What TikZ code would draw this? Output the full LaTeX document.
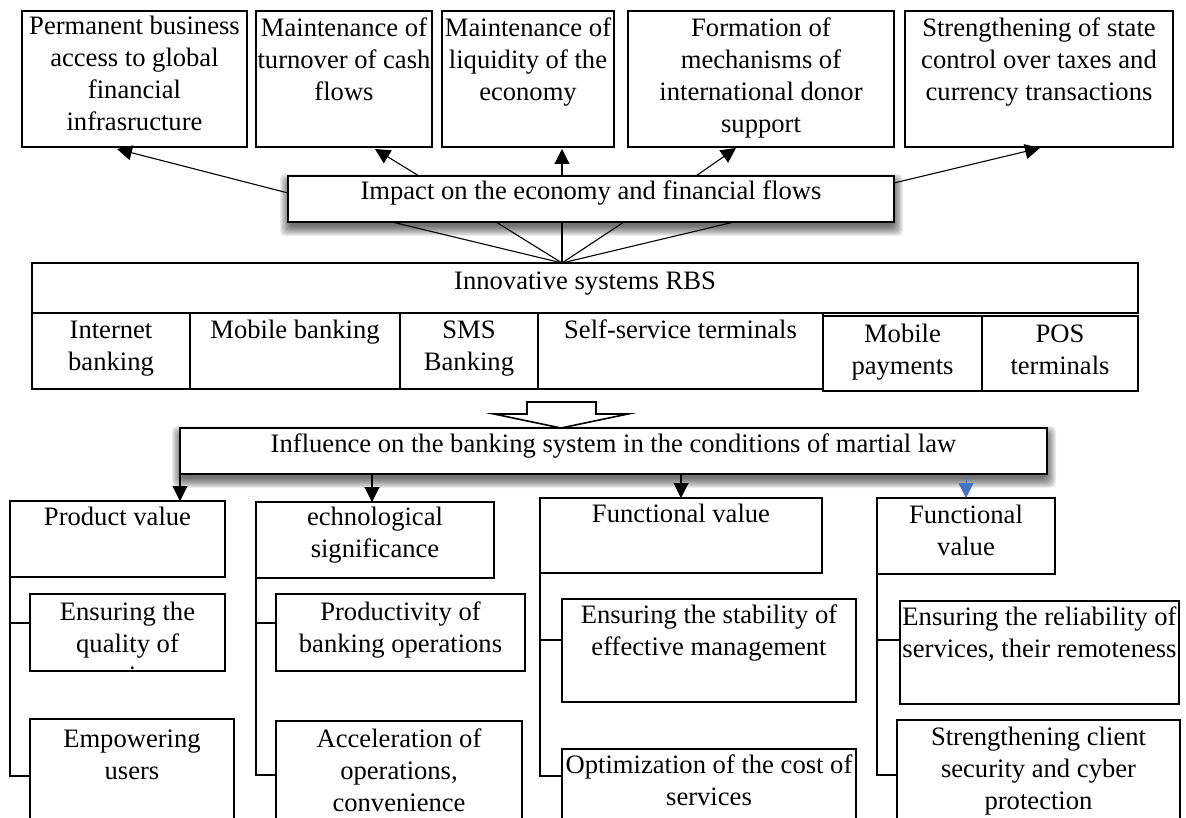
\documentclass[tikz,border=0pt]{standalone}
\usepackage{fontspec}
\setmainfont{Liberation Serif}
\usetikzlibrary{arrows.meta,fit,calc}
\definecolor{linkblue}{RGB}{68,114,196}
\newcommand\fs{\fontsize{26.6pt}{32pt}\selectfont}
\newcommand\hdstrut{\rule{0pt}{20pt}}
\tikzset{
  frame/.style={draw, line width=1.1pt, fill=white, inner sep=0pt, outer sep=0pt},
  lbl/.style={inner sep=0pt, outer sep=0pt, align=center, anchor=north, font=\fs},
  conn/.style={line width=1.1pt},
  arr/.style={conn, -{Triangle[length=15pt,width=15pt]}},
  bluearr/.style={line width=0.9pt, draw=linkblue, -{Triangle[length=15pt,width=15pt,fill=linkblue]}},
  blockarrow/.style={line width=1.6pt, fill=white, line join=miter},
}
% box from (x1,y1) to (x2,y2); text starts with its first baseline at y = #6
\newcommand\tbox[7]{%
  \node[frame, fit={(#2,#3) (#4,#5)}] (#1) {};
  \node[lbl] (#1-t) at ($(#1.north)+(0,#6-#3-20)$) {\hdstrut #7};}
% soft shadow under a box, offset downwards and blurred
\newcommand\softshadow[4]{%
  \foreach \k in {0,...,10}{%
    \fill[black, opacity=0.07, rounded corners=5pt]
      (#1+2-\k, #2+8-\k) rectangle (#3+\k-1, #4+\k+4);}}
\begin{document}
\begin{tikzpicture}[x=1pt,y=-1pt]
\useasboundingbox (0,0) rectangle (1186,818);
\clip (0,0) rectangle (1186,818);

% shadows of the two summary boxes
\softshadow{288}{176}{894}{222}
\softshadow{180}{428}{1047}{474}

% top row of effects
\tbox{b1}{22}{11}{247}{147}{35}{Permanent business\\access to global\\financial\\infrasructure}
\tbox{b2}{256}{11}{432}{147}{37}{Maintenance of\\turnover of cash\\flows}
\tbox{b3}{442}{11}{614}{147}{37}{Maintenance of\\liquidity of the\\economy}
\tbox{b4}{628}{11}{894}{147}{37}{Formation of\\mechanisms of\\international donor\\support}
\tbox{b5}{905}{11}{1173}{147}{37}{Strengthening of state\\control over taxes and\\currency transactions}

% impact box
\tbox{imp}{288}{176}{894}{222}{200}{Impact on the economy and financial flows}

% RBS table
\tbox{rbs}{32}{263}{1138}{313}{290}{Innovative systems RBS}
\tbox{c1}{32}{313}{190}{389}{338}{Internet\\banking}
\tbox{c2}{190}{313}{400}{389}{338}{Mobile banking}
\tbox{c3}{400}{313}{538}{389}{338}{SMS\\Banking}
\tbox{c4}{538}{313}{823}{389}{338}{Self-service terminals}
\tbox{c5}{823}{316}{982}{391}{342}{Mobile\\payments}
\tbox{c6}{982}{316}{1138}{391}{342}{POS\\terminals}

% arrows to the top row
\draw[arr] ($(imp.north west)+(0,17)$) -- ($(b1.south west)+(95,2)$);
\draw[arr] ($(imp.north west)+(131,0)$) -- ($(b2.south west)+(119,2)$);
\draw[arr] ($(imp.north west)+(274,0)$) -- ($(b3.south west)+(120,2)$);
\draw[arr] ($(imp.north west)+(408,0)$) -- ($(b4.south west)+(108,1)$);
\draw[arr] ($(imp.north east)+(0,7)$) -- ($(b5.south west)+(135,1)$);

% fan of lines from the RBS table to the impact box
\coordinate (fan) at ($(rbs.north west)+(530,0)$);
\foreach \dx in {104,208,274,336,446}{
  \draw[conn] ($(imp.south west)+(\dx,0)$) -- (fan);}

% influence box
\tbox{infl}{180}{428}{1047}{474}{452}{Influence on the banking system in the conditions of martial law}

% hollow block arrow
\draw[blockarrow] (527,402) -- (596,402) -- (596,414) -- (628,414) -- (561,428)
  -- (494,414) -- (527,414) -- cycle;

% column headers
\tbox{h1}{10}{501}{225}{577}{525}{Product value}
\tbox{h2}{256}{502}{494}{578}{525}{echnological\\significance}
\tbox{h3}{540}{498}{822}{573}{522}{Functional value}
\tbox{h4}{877}{498}{1055}{574}{523}{Functional\\value}

% column items
\node[frame, fit={(30,594) (225,671)}] (s11) {};
\begin{scope}
  \clip (s11.north west) rectangle (s11.south east);
  \node[lbl] (s11-t) at ($(s11.north)+(0,6)$) {\hdstrut Ensuring the\\quality of\\services};
\end{scope}
\tbox{s12}{30}{719}{234}{840}{747}{Empowering\\users}
\tbox{s21}{276}{594}{525}{671}{620}{Productivity of\\banking operations}
\tbox{s22}{276}{721}{522}{840}{747}{Acceleration of\\operations,\\convenience}
\tbox{s31}{562}{599}{856}{702}{623}{Ensuring the stability of\\effective management}
\tbox{s32}{562}{749}{856}{840}{773}{Optimization of the cost of\\services}
\tbox{s41}{900}{601}{1179}{704}{625}{Ensuring the reliability of\\services, their remoteness}
\tbox{s42}{897}{720}{1180}{840}{745}{Strengthening client\\security and cyber\\protection}

% arrows from the influence box to the headers
\draw[arr] (infl.south west) -- (infl.south west |- h1.north);
\coordinate (d2) at ($(infl.south west)+(192,0)$);
\draw[arr] (d2) -- (d2 |- h2.north);
\coordinate (d3) at ($(infl.south west)+(501,0)$);
\draw[arr] (d3) -- (d3 |- h3.north);
\coordinate (d4) at ($(infl.south west)+(786,4)$);
\draw[bluearr] (d4) -- (d4 |- h4.north);

% brackets joining each header to its items
\draw[conn] (h1.south west) |- (s11.west |- 0,623);
\draw[conn] (h1.south west) |- (s12.west |- 0,776);
\draw[conn] (h2.south west) |- (s21.west |- 0,623);
\draw[conn] (h2.south west) |- (s22.west |- 0,775);
\draw[conn] (h3.south west) |- (s31.west |- 0,640);
\draw[conn] (h3.south west) |- (s32.west |- 0,776);
\draw[conn] (h4.south west) |- (s41.west |- 0,640);
\draw[conn] (h4.south west) |- (s42.west |- 0,775);
\end{tikzpicture}
\end{document}
